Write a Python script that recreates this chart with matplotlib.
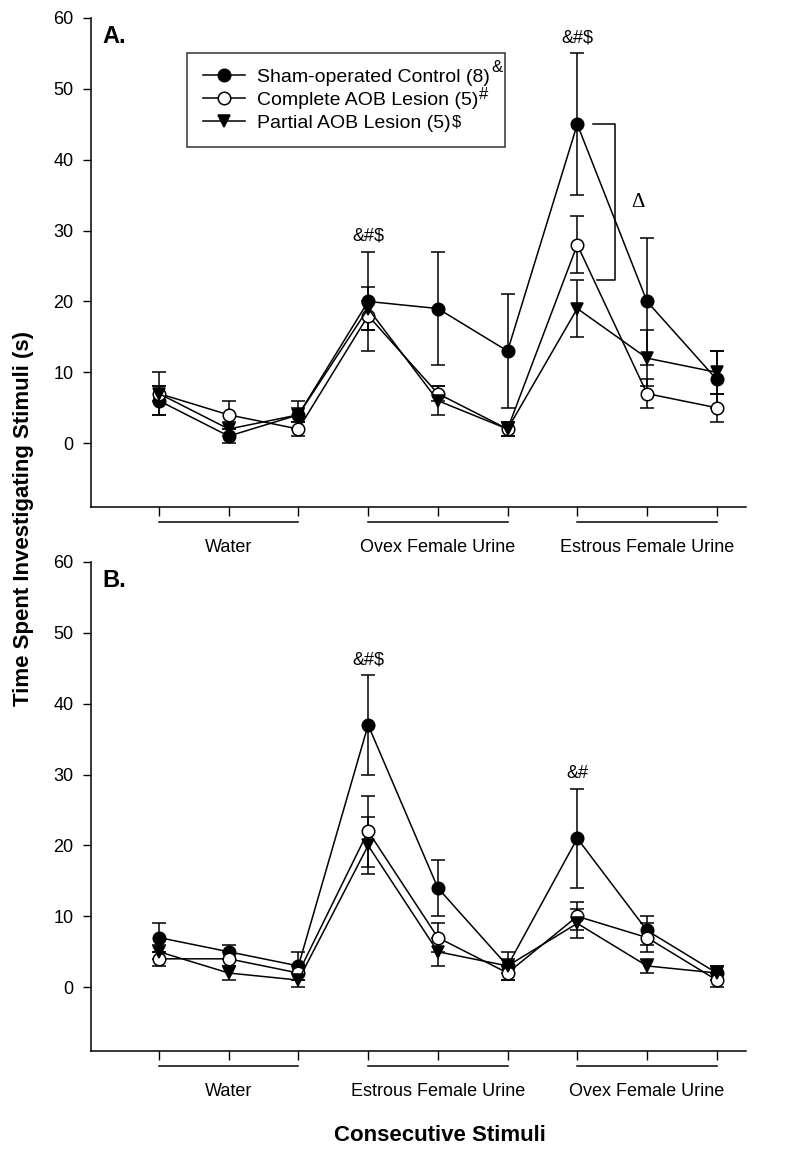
import matplotlib
matplotlib.use("Agg")
import matplotlib.pyplot as plt

plt.rcParams['font.family'] = ['Liberation Sans', 'DejaVu Sans']

# stimulus number 1..9
stim = [1, 2, 3, 4, 5, 6, 7, 8, 9]

# panel A: water, ovex urine, estrous urine
sham_a = [6, 1, 4, 20, 19, 13, 45, 20, 9]
sham_a_err = [2, 1, 2, 7, 8, 8, 10, 9, 4]
complete_a = [7, 4, 2, 18, 7, 2, 28, 7, 5]
complete_a_err = [3, 2, 1, 2, 1, 1, 4, 2, 2]
partial_a = [7, 2, 4, 19, 6, 2, 19, 12, 10]
partial_a_err = [1, 1, 1, 3, 2, 1, 4, 4, 3]
groups_a = ['Water', 'Ovex Female Urine', 'Estrous Female Urine']

# panel B: water, estrous urine, ovex urine
sham_b = [7, 5, 3, 37, 14, 3, 21, 8, 2]
sham_b_err = [2, 1, 2, 7, 4, 2, 7, 2, 1]
complete_b = [4, 4, 2, 22, 7, 2, 10, 7, 1]
complete_b_err = [1, 1, 1, 5, 2, 1, 2, 2, 1]
partial_b = [5, 2, 1, 20, 5, 3, 9, 3, 2]
partial_b_err = [1, 1, 1, 4, 2, 1, 2, 1, 1]
groups_b = ['Water', 'Estrous Female Urine', 'Ovex Female Urine']

labels = ['Sham-operated Control (8)', 'Complete AOB Lesion (5)',
          'Partial AOB Lesion (5)']
# superscript after each legend label, and how far it is raised (px)
label_sups = ['&', '#', '$']
sup_raise = [10, 6, 1]

# significance marks: (stimulus index, text)
marks_a = [(4, '&#$'), (7, '&#$')]
marks_b = [(4, '&#$'), (7, '&#')]

fig = plt.figure(figsize=(8, 11.53), dpi=100)
ax_a = fig.add_axes([0.11375, 0.5603, 0.81875, 0.4241])
ax_b = fig.add_axes([0.11375, 0.0885, 0.81875, 0.4241])


def draw_panel(ax, series, groups, marks, letter):
    handles = []
    for (y, err, face, mk) in series:
        c = ax.errorbar(stim, y, yerr=err, fmt='-' + mk, color='black',
                        mfc=face, mec='black', ms=9, lw=1.1, elinewidth=1.1,
                        capsize=5, capthick=1.1, mew=1.1)
        handles.append(c[0])
    ax.set_xlim(0.025, 9.42)
    ax.set_ylim(-9, 60)
    ax.set_yticks(range(0, 61, 10))
    ax.set_xticks(stim)
    ax.set_xticklabels([])
    ax.tick_params(axis='y', direction='out', length=5.5, width=1, labelsize=13, pad=7)
    ax.tick_params(axis='x', direction='out', length=6.5, width=1)
    for s in ['top', 'right']:
        ax.spines[s].set_visible(False)
    for s in ['left', 'bottom']:
        ax.spines[s].set_linewidth(1.1)
    tr = ax.get_xaxis_transform()
    for i, g in enumerate(groups):
        x0 = stim[3 * i]
        x1 = stim[3 * i + 2]
        ax.plot([x0, x1], [-0.031, -0.031], color='black', lw=1.1,
                transform=tr, clip_on=False)
        ax.text(stim[3 * i + 1], -0.082, g, transform=tr, ha='center',
                va='center', fontsize=13)
    sham, sham_err = series[0][0], series[0][1]
    for idx, txt in marks:
        ax.text(idx, sham[idx - 1] + sham_err[idx - 1] + 1.0, txt,
                ha='center', va='bottom', fontsize=13)
    ax.text(0.018, 0.985, letter, transform=ax.transAxes, fontsize=17,
            fontweight='bold', ha='left', va='top')
    return handles


h = draw_panel(ax_a, [(sham_a, sham_a_err, 'black', 'o'),
                      (complete_a, complete_a_err, 'white', 'o'),
                      (partial_a, partial_a_err, 'black', 'v')],
               groups_a, marks_a, 'A.')
draw_panel(ax_b, [(sham_b, sham_b_err, 'black', 'o'),
                  (complete_b, complete_b_err, 'white', 'o'),
                  (partial_b, partial_b_err, 'black', 'v')],
           groups_b, marks_b, 'B.')

# bracket between sham and complete at the estrous peak
ax_a.plot([7.23, 7.54, 7.54, 7.28], [45, 45, 23, 23], color='black', lw=1.1)
ax_a.text(7.87, 33.9, '\u0394', family=['Liberation Serif', 'DejaVu Serif'],
          fontsize=15, ha='center', va='center')

leg = ax_a.legend(h, labels, loc='upper left', bbox_to_anchor=(0.1466, 0.9284),
                  borderaxespad=0, fontsize=14, frameon=True, fancybox=False,
                  edgecolor='black', numpoints=1, handlelength=2.2,
                  handletextpad=0.6, labelspacing=0.27, borderpad=0.8)
leg.get_frame().set_linewidth(1.1)

# superscripts next to legend labels
fig.canvas.draw()
rend = fig.canvas.get_renderer()
W, H = fig.bbox.width, fig.bbox.height
for t, sup, dy in zip(leg.get_texts(), label_sups, sup_raise):
    bb = t.get_window_extent(rend)
    fig.text((bb.x1 + 1) / W, (bb.y0 + bb.height * 0.5 + dy) / H, sup,
             fontsize=12, ha='left', va='center')

fig.text(0.03, 0.55, 'Time Spent Investigating Stimuli (s)', rotation=90,
         ha='center', va='center', fontsize=16, fontweight='bold',
         family=['Liberation Sans Narrow', 'Liberation Sans', 'DejaVu Sans'])
fig.text(0.55, 0.015, 'Consecutive Stimuli', ha='center', va='center',
         fontsize=16, fontweight='bold')

plt.savefig('out.png', dpi=100)
